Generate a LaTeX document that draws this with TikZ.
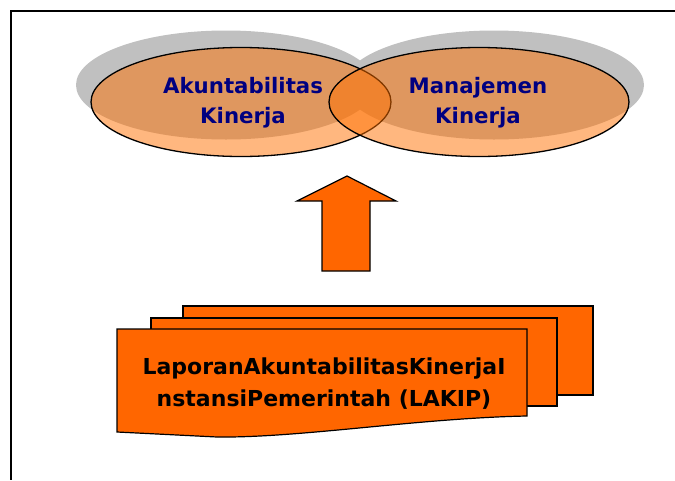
\documentclass[tikz,border=0pt]{standalone}
\usepackage{fontspec}
\setmainfont{DejaVu Sans}
\usetikzlibrary{shapes.geometric}
\definecolor{shadowgray}{HTML}{C0C0C0}
\definecolor{ovalorange}{HTML}{FF7000}
\definecolor{docorange}{HTML}{FF6600}
\definecolor{navytext}{HTML}{000080}
\tikzset{
  shadowoval/.style={ellipse, fill=shadowgray, draw=none, minimum width=300pt, minimum height=109pt, inner sep=0pt},
  oval/.style={ellipse, draw=black, line width=1.3pt, fill=ovalorange, fill opacity=0.5, text opacity=1, minimum width=300pt, minimum height=109pt, inner sep=0pt},
  ovaltext/.style={text=navytext, font=\fontsize{21.3}{30}\selectfont\bfseries, align=center},
  docsheet/.style={draw=black, line width=1.2pt, fill=docorange},
  doctext/.style={text=black, font=\fontsize{22}{32}\selectfont\bfseries, align=center}
}
\begin{document}
\begin{tikzpicture}[x=1pt,y=-1pt]
\path[use as bounding box, fill=white] (0,0) rectangle (675,480);
% frame
\coordinate (ftop) at (675,11);
\coordinate (fcorner) at (11,11);
\coordinate (fbot) at (11,480);
\draw[line width=2pt] (ftop) -- (fcorner) -- (fbot);
% shadows
\node[shadowoval] (shL) at (226,85) {};
\node[shadowoval] (shR) at (494,85) {};
% ovals
\node[oval] (ovL) at (241,102) {};
\node[oval] (ovR) at (479,102) {};
\node[ovaltext] (tL) at (243,103) {Akuntabilitas\\Kinerja};
\node[ovaltext] (tR) at (478,103) {Manajemen\\Kinerja};
% arrow
\draw[docsheet] (322,271) -- (322,201) -- (297,201) -- (347,176) -- (396,201) -- (370,201) -- (370,271) -- cycle;
% documents
\draw[docsheet] (183,306) rectangle (593,395);
\draw[docsheet] (151,318) rectangle (557,406);
\draw[docsheet] (117,329) -- (527,329) -- (527,416)
  .. controls (420,418) and (300,438) .. (217,437) -- (117,432) -- cycle;
\node[doctext] (tDoc) at (324,384) {LaporanAkuntabilitasKinerjaI\\nstansiPemerintah (LAKIP)};
\end{tikzpicture}
\end{document}
